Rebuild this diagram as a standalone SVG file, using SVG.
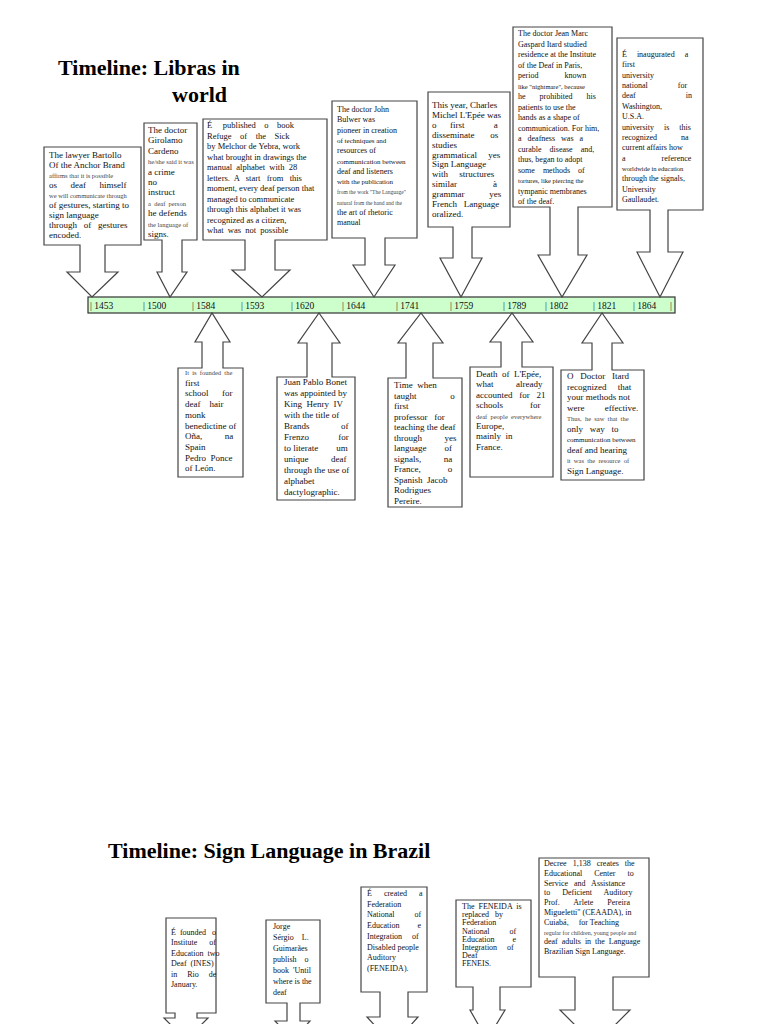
<svg xmlns="http://www.w3.org/2000/svg" width="768" height="1024" viewBox="0 0 768 1024">
<style>
.c{fill:#fff;stroke:#444;stroke-width:1.2}
text{font-family:"Liberation Serif","Times New Roman",serif;fill:#111;white-space:pre}
.t{font-size:9px}
.s{font-size:6.5px;fill:#444}
.m{font-size:8px}
.h{font-size:22px;font-weight:bold;fill:#000}
.y{font-size:9.5px}
</style>
<rect width="768" height="1024" fill="#fff"/>
<text class="h" x="58" y="75">Timeline: Libras in</text>
<text class="h" x="172" y="102">world</text>
<text class="h" x="108" y="858">Timeline: Sign Language in Brazil</text>

<g id="connectors">
<rect x="88" y="297" width="587" height="16" fill="#ccffcc" stroke="#333" stroke-width="1.2"/>
<g class="y">
<text x="90" y="309">| 1453</text><text x="143" y="309">| 1500</text><text x="192" y="309">| 1584</text>
<text x="241" y="309">| 1593</text><text x="291" y="309">| 1620</text><text x="342" y="309">| 1644</text>
<text x="396" y="309">| 1741</text><text x="450" y="309">| 1759</text><text x="503" y="309">| 1789</text>
<text x="545" y="309">| 1802</text><text x="593" y="309">| 1821</text><text x="633" y="309">| 1864</text>
<text x="670" y="309">|</text>
</g>
</g>

<g id="n1453">
<path class="c" d="M44 147H141V245H105V272H118L92 297L67 272H80V245H44Z"/>
<text class="t" x="49" y="158"><tspan>The lawyer Bartollo</tspan><tspan x="49" dy="10">Of the Anchor Brand</tspan><tspan x="49" dy="10" class="s">affirms that it is possible</tspan><tspan x="49" dy="10">os      deaf      himself</tspan><tspan x="49" dy="10" class="s">we will communicate through</tspan><tspan x="49" dy="10">of gestures, starting to</tspan><tspan x="49" dy="10">sign language</tspan><tspan x="49" dy="10">through   of   gestures</tspan><tspan x="49" dy="10">encoded.</tspan></text>
</g>
<g id="n1500">
<path class="c" d="M144 123H197V240H182V272H187L170 297L157 272H162V240H144Z"/>
<text class="t" x="148" y="133"><tspan>The doctor</tspan><tspan x="148" dy="10.4">Girolamo</tspan><tspan x="148" dy="10.4">Cardeno</tspan><tspan x="148" dy="10.4" class="s">he/she said it was</tspan><tspan x="148" dy="10.4">a crime</tspan><tspan x="148" dy="10.4">no</tspan><tspan x="148" dy="10.4">instruct</tspan><tspan x="148" dy="10.4" class="s">a  deaf  person</tspan><tspan x="148" dy="10.4">he defends</tspan><tspan x="148" dy="10.4" class="s">the language of</tspan><tspan x="148" dy="10.4">signs.</tspan></text>
</g>
<g id="n1593">
<path class="c" d="M203 119H327V240H275V270H290L262 297L232 270H245V240H203Z"/>
<text class="t" style="font-size:8.5px" x="207" y="128"><tspan>É     published    o    book</tspan><tspan x="207" dy="10.5">Refuge    of    the    Sick</tspan><tspan x="207" dy="10.5">by Melchor de Yebra, work</tspan><tspan x="207" dy="10.5">what brought in drawings the</tspan><tspan x="207" dy="10.5">manual  alphabet  with  28</tspan><tspan x="207" dy="10.5">letters.  A   start   from   this</tspan><tspan x="207" dy="10.5">moment, every deaf person that</tspan><tspan x="207" dy="10.5">managed to communicate</tspan><tspan x="207" dy="10.5">through this alphabet it was</tspan><tspan x="207" dy="10.5">recognized as a citizen,</tspan><tspan x="207" dy="10.5">what  was  not  possible</tspan></text>
</g>
<g id="n1644">
<path class="c" d="M332 101H417V238H385V265H395L374 297L353 265H365V238H332Z"/>
<text class="m" x="337" y="112"><tspan>The doctor John</tspan><tspan x="337" dy="10.3">Bulwer was</tspan><tspan x="337" dy="10.3">pioneer in creation</tspan><tspan x="337" dy="10.3" style="font-size:7px">of techniques and</tspan><tspan x="337" dy="10.3">resources of</tspan><tspan x="337" dy="10.3" style="font-size:7px">communication between</tspan><tspan x="337" dy="10.3">deaf and listeners</tspan><tspan x="337" dy="10.3" style="font-size:7px">with the publication</tspan><tspan x="337" dy="10.3" class="s" style="font-size:5.5px">from the work "The Language"</tspan><tspan x="337" dy="10.3" class="s" style="font-size:5.5px">natural from the hand and the</tspan><tspan x="337" dy="10.3">the art of rhetoric</tspan><tspan x="337" dy="10.3">manual</tspan></text>
</g>
<g id="n1759">
<path class="c" d="M428 92H510V227H472V258H482L461 297L440 258H453V227H428Z"/>
<text class="t" x="432" y="108"><tspan>This year, Charles</tspan><tspan x="432" dy="9.9">Michel L'Epée was</tspan><tspan x="432" dy="9.9">o      first             a</tspan><tspan x="432" dy="9.9">disseminate       os</tspan><tspan x="432" dy="9.9">studies</tspan><tspan x="432" dy="9.9">grammatical     yes</tspan><tspan x="432" dy="9.9">Sign Language</tspan><tspan x="432" dy="9.9">with     structures</tspan><tspan x="432" dy="9.9">similar                à</tspan><tspan x="432" dy="9.9">grammar           yes</tspan><tspan x="432" dy="9.9">French   Language</tspan><tspan x="432" dy="9.9">oralized.</tspan></text>
</g>
<g id="n1802">
<path class="c" d="M513 27H612V207H578V255H587L562 297L538 255H550V207H513Z"/>
<text class="m" x="518" y="36"><tspan>The doctor Jean Marc</tspan><tspan x="518" dy="10.5">Gaspard Itard studied</tspan><tspan x="518" dy="10.5">residence at the Institute</tspan><tspan x="518" dy="10.5">of the Deaf in Paris,</tspan><tspan x="518" dy="10.5">period             known</tspan><tspan x="518" dy="10.5" style="font-size:6.5px">like "nightmare", because</tspan><tspan x="518" dy="10.5">he       prohibited       his</tspan><tspan x="518" dy="10.5">patients to use the</tspan><tspan x="518" dy="10.5">hands as a shape of</tspan><tspan x="518" dy="10.5">communication. For him,</tspan><tspan x="518" dy="10.5">a   deafness   was   a</tspan><tspan x="518" dy="10.5">curable    disease    and,</tspan><tspan x="518" dy="10.5">thus, began to adopt</tspan><tspan x="518" dy="10.5">some    methods    of</tspan><tspan x="518" dy="10.5" style="font-size:6.5px">tortures, like piercing the</tspan><tspan x="518" dy="10.5">tympanic membranes</tspan><tspan x="518" dy="10.5">of the deaf.</tspan></text>
</g>
<g id="n1864">
<path class="c" d="M617 38H703V210H668V252H683L660 297L637 252H650V210H617Z"/>
<text class="m" x="622" y="57"><tspan>É     inaugurated     a</tspan><tspan x="622" dy="10.36">first</tspan><tspan x="622" dy="10.36">university</tspan><tspan x="622" dy="10.36">national               for</tspan><tspan x="622" dy="10.36">deaf                         in</tspan><tspan x="622" dy="10.36">Washington,</tspan><tspan x="622" dy="10.36">U.S.A.</tspan><tspan x="622" dy="10.36">university     is     this</tspan><tspan x="622" dy="10.36">recognized            na</tspan><tspan x="622" dy="10.36">current affairs how</tspan><tspan x="622" dy="10.36">a                  reference</tspan><tspan x="622" dy="10.36" style="font-size:6.5px">worldwide in education</tspan><tspan x="622" dy="10.36">through the signals,</tspan><tspan x="622" dy="10.36">University</tspan><tspan x="622" dy="10.36">Gaullaudet.</tspan></text>
</g>

<g id="n1584">
<path class="c" d="M178 368H202V342H195L212 313L230 342H223V368H243V477H178Z"/>
<text class="t" x="185" y="375"><tspan class="s">It  is  founded  the</tspan><tspan x="185" dy="10.7">first</tspan><tspan x="185" dy="10.7">school      for</tspan><tspan x="185" dy="10.7">deaf    hair</tspan><tspan x="185" dy="10.7">monk</tspan><tspan x="185" dy="10.7">benedictine of</tspan><tspan x="185" dy="10.7">Oña,          na</tspan><tspan x="185" dy="10.7">Spain</tspan><tspan x="185" dy="10.7">Pedro  Ponce</tspan><tspan x="185" dy="10.7">of León.</tspan></text>
</g>
<g id="n1620">
<path class="c" d="M277 377H307V343H298L319 313L340 343H332V377H355V500H277Z"/>
<text class="t" x="284" y="385"><tspan>Juan Pablo Bonet</tspan><tspan x="284" dy="11">was appointed by</tspan><tspan x="284" dy="11">King  Henry  IV</tspan><tspan x="284" dy="11">with the title of</tspan><tspan x="284" dy="11">Brands              of</tspan><tspan x="284" dy="11">Frenzo             for</tspan><tspan x="284" dy="11">to literate        um</tspan><tspan x="284" dy="11">unique          deaf</tspan><tspan x="284" dy="11">through the use of</tspan><tspan x="284" dy="11">alphabet</tspan><tspan x="284" dy="11">dactylographic.</tspan></text>
</g>
<g id="n1741">
<path class="c" d="M388 378H406V343H398L421 313L443 343H433V378H462V507H388Z"/>
<text class="t" x="394" y="388"><tspan>Time  when</tspan><tspan x="394" dy="10.5">taught               o</tspan><tspan x="394" dy="10.5">first</tspan><tspan x="394" dy="10.5">professor   for</tspan><tspan x="394" dy="10.5">teaching the deaf</tspan><tspan x="394" dy="10.5">through          yes</tspan><tspan x="394" dy="10.5">language        of</tspan><tspan x="394" dy="10.5">signals,          na</tspan><tspan x="394" dy="10.5">France,            o</tspan><tspan x="394" dy="10.5">Spanish  Jacob</tspan><tspan x="394" dy="10.5">Rodrigues</tspan><tspan x="394" dy="10.5">Pereire.</tspan></text>
</g>
<g id="n1789">
<path class="c" d="M470 367H501V342H490L512 313L533 342H522V367H553V477H470Z"/>
<text class="t" x="476" y="377"><tspan>Death  of  L'Epée,</tspan><tspan x="476" dy="10.4">what          already</tspan><tspan x="476" dy="10.4">accounted   for   21</tspan><tspan x="476" dy="10.4">schools            for</tspan><tspan x="476" dy="10.4" class="s">deaf  people  everywhere</tspan><tspan x="476" dy="10.4">Europe,</tspan><tspan x="476" dy="10.4">mainly  in</tspan><tspan x="476" dy="10.4">France.</tspan></text>
</g>
<g id="n1821">
<path class="c" d="M561 370H592V343H582L602 313L623 343H612V370H644V480H561Z"/>
<text class="t" x="567" y="379"><tspan>O   Doctor   Itard</tspan><tspan x="567" dy="10.5">recognized     that</tspan><tspan x="567" dy="10.5">your methods not</tspan><tspan x="567" dy="10.5">were         effective.</tspan><tspan x="567" dy="10.5" class="s">Thus,  he  saw  that  the</tspan><tspan x="567" dy="10.5">only   way   to</tspan><tspan x="567" dy="10.5" style="font-size:7px">communication between</tspan><tspan x="567" dy="10.5">deaf and hearing</tspan><tspan x="567" dy="10.5" class="s">it  was  the  resource  of</tspan><tspan x="567" dy="10.5">Sign Language.</tspan></text>
</g>

<g id="bINES">
<path class="c" d="M166 918H216V1013H197V1018H208L186 1040L164 1018H175V1013H166Z"/>
<text class="m" x="171" y="935"><tspan>É  founded   o</tspan><tspan x="171" dy="10.4">Institute      of</tspan><tspan x="171" dy="10.4">Education  two</tspan><tspan x="171" dy="10.4">Deaf  (INES)</tspan><tspan x="171" dy="10.4">in     Rio     de</tspan><tspan x="171" dy="10.4">January.</tspan></text>
</g>
<g id="bJorge">
<path class="c" d="M266 920H320V1003H300V1021H310L293 1040L275 1021H287V1003H266Z"/>
<text class="m" x="273" y="929"><tspan>Jorge</tspan><tspan x="273" dy="11">Sérgio    L.</tspan><tspan x="273" dy="11">Guimarães</tspan><tspan x="273" dy="11">publish    o</tspan><tspan x="273" dy="11">book  'Until</tspan><tspan x="273" dy="11">where is the</tspan><tspan x="273" dy="11">deaf</tspan></text>
</g>
<g id="bFENEIDA">
<path class="c" d="M361 887H427V992H408V1017H418L393 1045L367 1017H380V992H361Z"/>
<text class="m" x="367" y="896"><tspan>É      created      a</tspan><tspan x="367" dy="10.7">Federation</tspan><tspan x="367" dy="10.7">National          of</tspan><tspan x="367" dy="10.7">Education         e</tspan><tspan x="367" dy="10.7">Integration     of</tspan><tspan x="367" dy="10.7">Disabled people</tspan><tspan x="367" dy="10.7">Auditory</tspan><tspan x="367" dy="10.7">(FENEIDA).</tspan></text>
</g>
<g id="bFENEIS">
<path class="c" d="M456 900H531V987H500V1010H505L487 1040L470 1010H473V987H456Z"/>
<text class="m" x="462" y="909"><tspan>The  FENEIDA  is</tspan><tspan x="462" dy="8.2">replaced   by</tspan><tspan x="462" dy="8.2">Federation</tspan><tspan x="462" dy="8.2">National          of</tspan><tspan x="462" dy="8.2">Education         e</tspan><tspan x="462" dy="8.2">Integration     of</tspan><tspan x="462" dy="8.2">Deaf</tspan><tspan x="462" dy="8.2">FENEIS.</tspan></text>
</g>
<g id="bCEAADA">
<path class="c" d="M539 858H649V977H613V1010H630L595 1045L560 1010H575V977H539Z"/>
<text class="m" x="544" y="866"><tspan>Decree   1,138   creates   the</tspan><tspan x="544" dy="9.8">Educational      Center      to</tspan><tspan x="544" dy="9.8">Service   and   Assistance</tspan><tspan x="544" dy="9.8">to      Deficient      Auditory</tspan><tspan x="544" dy="9.8">Prof.       Arlete       Pereira</tspan><tspan x="544" dy="9.8">Migueletti" (CEAADA), in</tspan><tspan x="544" dy="9.8">Cuiabá,     for Teaching</tspan><tspan x="544" dy="9.8" style="font-size:6px;fill:#444">regular for children, young people and</tspan><tspan x="544" dy="9.8">deaf  adults  in  the  Language</tspan><tspan x="544" dy="9.8">Brazilian Sign Language.</tspan></text>
</g>
</svg>
